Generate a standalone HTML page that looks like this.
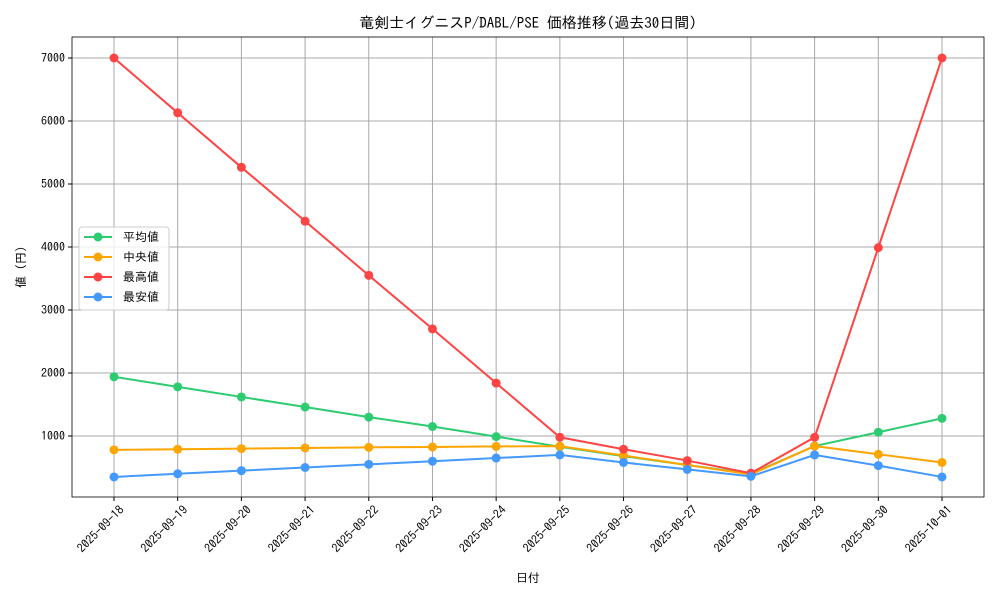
<!DOCTYPE html>
<html><head><meta charset="utf-8"><style>
body{margin:0;background:#fff;}
svg text{font-family:"IPAGothic","Noto Sans CJK JP",sans-serif;font-size:12px;fill:#000;}
</style></head><body>
<svg id="s" width="1000" height="600" xmlns="http://www.w3.org/2000/svg"></svg>
<script>
const s=document.getElementById('s');
const L=72,R=984,T=37,B=497;
const X=i=>114+i*(942-114)/13;
const Y=v=>499-0.063*v;
let h='<rect width="1000" height="600" fill="#fff"/>';
const dates=["2025-09-18","2025-09-19","2025-09-20","2025-09-21","2025-09-22","2025-09-23","2025-09-24","2025-09-25","2025-09-26","2025-09-27","2025-09-28","2025-09-29","2025-09-30","2025-10-01"];
for(let v=1000;v<=7000;v+=1000){const y=Y(v);h+=`<line x1="${L}" x2="${R}" y1="${y}" y2="${y}" stroke="#a8a8a8" stroke-width="1"/><line x1="${L-4}" x2="${L}" y1="${y}" y2="${y}" stroke="#000"/><text x="${L-7}" y="${y+4}" text-anchor="end">${v}</text>`;}
dates.forEach((d,i)=>{const x=X(i);h+=`<line x1="${x}" x2="${x}" y1="${T}" y2="${B}" stroke="#a8a8a8" stroke-width="1"/><line x1="${x}" x2="${x}" y1="${B}" y2="${B+4}" stroke="#000"/><text transform="translate(${x+5},${B+8}) rotate(-45)" text-anchor="end" dominant-baseline="hanging">${d}</text>`;});
const S=[
["#2ecc71",[1940,1780,1620,1460,1300,1150,990,830,680,540,400,840,1060,1280]],
["#ffa500",[780,790,800,810,820,825,835,840,690,540,390,840,710,580]],
["#ff4444",[7000,6130,5265,4410,3550,2700,1840,980,790,610,410,980,3990,7000]],
["#4499ff",[350,400,450,500,550,600,650,700,580,470,360,700,530,350]]];
S.forEach(([c,d])=>{h+=`<polyline fill="none" stroke="${c}" stroke-width="2" points="${d.map((v,i)=>X(i)+','+Y(v)).join(' ')}"/>`;d.forEach((v,i)=>h+=`<circle cx="${X(i)}" cy="${Y(v)}" r="4.5" fill="${c}"/>`);});
h+=`<rect x="${L}" y="${T}" width="${R-L}" height="${B-T}" fill="none" stroke="#000" stroke-width="0.8"/>`;
h+=`<rect x="79" y="227" width="90" height="83" rx="3" fill="#fff" fill-opacity="0.8" stroke="#ccc"/>`;
const names=["平均値","中央値","最高値","最安値"];
names.forEach((n,i)=>{const y=237+i*20;h+=`<line x1="84" x2="112" y1="${y}" y2="${y}" stroke="${S[i][0]}" stroke-width="2"/><circle cx="98" cy="${y}" r="4.5" fill="${S[i][0]}"/><text x="123" y="${y+4}">${n}</text>`;});
h+=`<text x="528" y="28" text-anchor="middle" style="font-size:15px">竜剣士イグニスP/DABL/PSE 価格推移(過去30日間)</text>`;
h+=`<text x="528" y="582" text-anchor="middle">日付</text>`;
h+=`<text transform="translate(25,267) rotate(-90)" text-anchor="middle">値 (円)</text>`;
s.innerHTML=h;
</script>
</body></html>
